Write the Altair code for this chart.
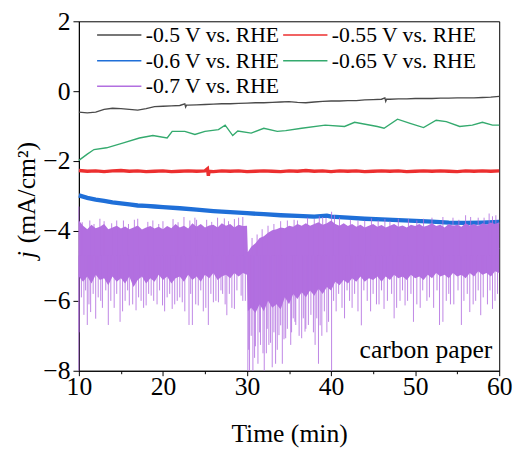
import altair as alt
import pandas as pd

series_names = ["-0.5 V vs. RHE", "-0.55 V vs. RHE", "-0.6 V vs. RHE",
                "-0.65 V vs. RHE", "-0.7 V vs. RHE"]
series_colors = ["#4a4a4a", "#ec2f2f", "#1f6fd8", "#34aa6e", "#b26fe0"]
series_widths = [1.4, 3.4, 4.4, 1.4, 1.0]

# -0.5 V (gray)
gray_t = [10, 11, 12, 13, 14, 15, 16, 17, 18, 19, 20, 21, 22, 22.6, 22.7, 22.8, 23, 24, 25,
          26, 27, 28, 29, 30, 31, 32, 33, 34, 35, 36, 37, 38, 39, 40, 41, 42, 43, 44, 45,
          46, 46.4, 46.5, 46.6, 47, 48, 49, 50, 51, 52, 53, 54, 55, 56, 57, 58, 59, 60]
gray_j = [-0.60, -0.62, -0.60, -0.52, -0.49, -0.50, -0.52, -0.54, -0.50, -0.44, -0.43,
          -0.42, -0.41, -0.36, -0.45, -0.40, -0.40, -0.39, -0.38, -0.37, -0.36, -0.36,
          -0.35, -0.34, -0.33, -0.33, -0.32, -0.31, -0.30, -0.32, -0.33, -0.31, -0.29,
          -0.28, -0.28, -0.27, -0.27, -0.25, -0.24, -0.23, -0.19, -0.29, -0.23, -0.23,
          -0.22, -0.22, -0.21, -0.21, -0.21, -0.20, -0.20, -0.19, -0.19, -0.19, -0.18,
          -0.17, -0.15]

# -0.55 V (red)
red_t = [10, 11, 12, 13, 14, 15, 16, 17, 18, 19, 20, 21, 22, 23, 24, 25, 25.3, 25.4, 25.5,
         26, 27, 28, 29, 30, 31, 32, 33, 34, 35, 36, 37, 38, 39, 40, 41, 42, 43, 44, 45,
         46, 47, 48, 49, 50, 51, 52, 53, 54, 55, 56, 57, 58, 59, 60]
red_j = [-2.27, -2.29, -2.28, -2.30, -2.28, -2.27, -2.29, -2.28, -2.30, -2.29, -2.28,
         -2.30, -2.29, -2.28, -2.29, -2.28, -2.22, -2.42, -2.29, -2.30, -2.28, -2.29,
         -2.28, -2.30, -2.29, -2.28, -2.29, -2.30, -2.28, -2.29, -2.27, -2.29, -2.28,
         -2.30, -2.28, -2.29, -2.28, -2.30, -2.29, -2.28, -2.29, -2.28, -2.30, -2.29,
         -2.28, -2.29, -2.28, -2.29, -2.30, -2.28, -2.29, -2.28, -2.29, -2.28]

# -0.6 V (blue)
blue_t = [10, 11, 12, 13, 14, 15, 16, 17, 18, 19, 20, 22, 24, 26, 28, 30, 32, 34, 36, 38,
          39.5, 40, 42, 44, 46, 48, 50, 52, 54, 56, 58, 60]
blue_j = [-2.98, -3.05, -3.10, -3.14, -3.18, -3.21, -3.24, -3.27, -3.28, -3.30, -3.32,
          -3.35, -3.39, -3.43, -3.46, -3.49, -3.52, -3.55, -3.57, -3.59, -3.56, -3.59,
          -3.62, -3.65, -3.67, -3.69, -3.71, -3.73, -3.76, -3.77, -3.76, -3.74]

# -0.65 V (green)
green_t = [10, 11, 11.8, 13.3, 15.3, 17.2, 18.8, 20.5, 21.1, 22.6, 23.8, 25, 26.6, 27.4,
           28.3, 28.9, 30.5, 32, 33.6, 34.6, 36.5, 39.3, 41.6, 42.8, 45.5, 46.3, 47.9,
           49.4, 51, 52.5, 53.7, 55.3, 56.8, 58, 59.2, 60]
green_j = [-1.98, -1.80, -1.67, -1.62, -1.48, -1.34, -1.27, -1.34, -1.15, -1.15, -1.24,
           -1.15, -1.10, -0.97, -1.27, -1.14, -1.20, -1.06, -1.15, -1.13, -1.06, -0.97,
           -1.01, -0.89, -1.01, -1.06, -0.80, -0.92, -1.04, -0.83, -0.87, -1.01, -0.97,
           -0.89, -0.97, -0.97]

# -0.7 V (purple): mean trace, dense noise band and spikes
purple_t = [10, 30, 30.1, 35, 40, 60]
purple_j = [-4.6, -4.6, -5.4, -5.0, -4.6, -4.5]

band_t = [10, 10.5, 11, 11.5, 12, 12.5, 13, 13.5, 14, 14.5, 15, 15.5, 16, 16.5, 17, 17.5,
          18, 18.5, 19, 19.5, 20, 20.5, 21, 21.5, 22, 22.5, 23, 23.5, 24, 24.5, 25, 25.5,
          26, 26.5, 27, 27.5, 28, 28.5, 29, 29.5, 30, 30.1, 30.5, 31, 31.5, 32, 32.5, 33,
          33.5, 34, 34.5, 35, 35.5, 36, 36.5, 37, 37.5, 38, 38.5, 39, 39.5, 40, 40.5, 41,
          41.5, 42, 42.5, 43, 43.5, 44, 44.5, 45, 45.5, 46, 46.5, 47, 47.5, 48, 48.5, 49,
          49.5, 50, 50.5, 51, 51.5, 52, 52.5, 53, 53.5, 54, 54.5, 55, 55.5, 56, 56.5, 57,
          57.5, 58, 58.5, 59, 59.5, 60]
band_hi = [-3.70, -3.85, -3.95, -3.82, -3.92, -3.88, -3.80, -3.95, -3.90, -3.85, -3.93,
           -3.87, -3.95, -3.90, -3.84, -3.96, -3.90, -3.86, -3.93, -3.88, -3.95, -3.86,
           -3.92, -3.80, -3.90, -3.85, -3.93, -3.78, -3.88, -3.80, -3.90, -3.84, -3.82,
           -3.90, -3.78, -3.85, -3.80, -3.90, -3.82, -3.86, -3.85, -4.60, -4.45, -4.35,
           -4.20, -4.15, -4.05, -3.98, -3.95, -3.90, -3.92, -3.85, -3.88, -3.80, -3.85,
           -3.78, -3.85, -3.80, -3.75, -3.82, -3.78, -3.70, -3.80, -3.85, -3.78, -3.86,
           -3.80, -3.88, -3.82, -3.90, -3.85, -3.80, -3.88, -3.83, -3.90, -3.85, -3.80,
           -3.88, -3.84, -3.90, -3.82, -3.86, -3.80, -3.88, -3.84, -3.78, -3.86, -3.82,
           -3.90, -3.80, -3.85, -3.82, -3.88, -3.78, -3.84, -3.80, -3.86, -3.78, -3.82,
           -3.76, -3.80, -3.75]
band_lo = [-5.30, -5.45, -5.30, -5.50, -5.25, -5.40, -5.35, -5.55, -5.30, -5.45, -5.35,
           -5.50, -5.30, -5.60, -5.40, -5.30, -5.50, -5.35, -5.45, -5.25, -5.40, -5.30,
           -5.50, -5.35, -5.30, -5.45, -5.25, -5.40, -5.30, -5.45, -5.25, -5.35, -5.20,
           -5.40, -5.30, -5.25, -5.35, -5.20, -5.30, -5.20, -5.25, -6.30, -6.20, -6.35,
           -6.10, -6.30, -6.00, -6.20, -6.10, -6.25, -5.90, -6.10, -5.80, -5.95, -5.75,
           -5.90, -5.70, -5.85, -5.65, -5.80, -5.60, -5.70, -5.45, -5.55, -5.40, -5.50,
           -5.35, -5.45, -5.30, -5.45, -5.35, -5.40, -5.30, -5.45, -5.30, -5.40, -5.25,
           -5.35, -5.30, -5.40, -5.25, -5.35, -5.30, -5.40, -5.25, -5.35, -5.20, -5.30,
           -5.25, -5.35, -5.20, -5.30, -5.25, -5.35, -5.20, -5.30, -5.15, -5.25, -5.20,
           -5.30, -5.15, -5.20]

# deep downward spikes
spike_t = [10.0, 10.02, 11.0, 11.4, 12.0, 12.6, 13.5, 14.2, 14.9, 15.5, 16.0, 16.8, 17.4,
           18.0, 18.6, 19.3, 19.95, 20.5, 21.1, 21.7, 22.3, 23.1, 23.5, 24.2, 24.8, 25.4,
           26.0, 26.6, 27.1, 27.6, 28.5, 29.3, 29.8,
           30.1, 30.3, 30.7, 30.9, 31.3, 31.6, 32.05, 32.3, 32.6, 33.0, 33.4, 33.8, 34.2,
           34.6, 35.2, 35.5, 35.8, 36.5, 36.9, 37.3, 38.1, 38.5, 38.9, 39.5, 40.06,
           40.6, 41.6, 42.5, 43.6, 44.7, 45.4, 46.3, 47.5, 48.2, 48.8, 49.8, 50.6, 51.4,
           52.9, 53.3, 54.2, 55.5, 56.5, 57.2, 57.8, 58.6, 59.2]
spike_j = [-8.0, -6.9, -6.69, -6.32, -6.51, -6.0, -6.69, -6.2, -6.6, -6.0, -6.13, -6.27,
           -6.0, -6.13, -5.85, -6.1, -6.13, -5.9, -6.23, -6.0, -6.04, -6.69, -6.69, -6.13,
           -6.3, -6.69, -6.04, -6.04, -5.8, -6.41, -6.23, -5.85, -6.0,
           -8.0, -8.0, -8.0, -7.63, -7.8, -7.26, -8.0, -7.5, -7.26, -7.9, -7.8, -6.98,
           -7.8, -7.07, -7.26, -6.5, -6.69, -7.07, -6.88, -6.69, -7.26, -7.8, -7.0, -6.9,
           -8.0,
           -6.3, -6.5, -6.2, -6.7, -6.3, -6.1, -6.23, -6.5, -6.0, -6.13, -6.6, -6.2, -6.0,
           -6.69, -6.6, -6.1, -6.69, -6.32, -6.0, -6.41, -6.1, -6.23]

# shorter jagged downward spikes of the lower edge
jag_t = [10.3, 10.6, 10.8, 11.2, 11.7, 12.3, 12.8, 13.2, 13.8, 14.5, 15.2, 15.8, 16.4,
         17.1, 17.7, 18.3, 18.9, 19.6, 20.2, 20.8, 21.4, 22.0, 22.6, 23.3, 23.9, 24.5,
         25.1, 25.7, 26.3, 26.9, 27.4, 27.9, 28.2, 28.8, 29.5,
         30.2, 30.5, 31.0, 31.5, 31.9, 32.4, 32.8, 33.2, 33.6, 34.0, 34.4, 34.8, 35.3,
         35.7, 36.2, 36.7, 37.0, 37.6, 37.9, 38.3, 38.7, 39.2, 39.7,
         40.3, 40.9, 41.3, 41.9, 42.2, 42.8, 43.2, 43.9, 44.3, 45.0, 45.7, 46.0, 46.7,
         47.2, 47.8, 48.5, 49.1, 49.5, 50.2, 50.9, 51.7, 52.2, 52.6, 53.7, 54.0, 54.6,
         55.1, 55.8, 56.2, 56.9, 57.5, 58.1, 58.9, 59.5, 59.8]
jag_j = [-5.9, -6.4, -5.7, -6.1, -5.8, -5.9, -6.2, -5.7, -6.0, -5.8, -6.3, -5.7, -6.1,
         -5.9, -6.2, -5.8, -6.0, -5.7, -6.3, -5.8, -6.1, -5.9, -6.3, -5.8, -6.1, -5.7,
         -6.2, -5.8, -6.0, -5.7, -6.1, -5.8, -6.2, -5.7, -6.0,
         -7.4, -7.0, -7.3, -6.9, -7.5, -6.8, -7.2, -6.9, -7.4, -6.7, -7.1, -6.8, -6.9,
         -6.6, -7.0, -6.5, -6.8, -6.4, -6.9, -6.5, -6.7, -6.3, -6.6,
         -6.0, -5.8, -6.2, -5.7, -6.0, -5.8, -6.3, -5.7, -6.0, -5.8, -6.1, -5.7, -6.0,
         -5.8, -6.2, -5.7, -6.0, -5.8, -6.1, -5.7, -5.9, -6.2, -5.7, -6.0, -5.8, -6.1,
         -5.7, -6.0, -5.8, -6.1, -5.7, -5.9, -5.7, -6.0, -5.8]

# upward spikes of the upper edge
up_t = [10.0, 10.4, 11.3, 11.8, 12.5, 13.0, 13.9, 14.5, 15.3, 15.9, 16.6, 17.0, 18.2,
        18.8, 19.5, 20.0, 21.2, 21.8, 22.5, 23.2, 23.8, 24.0, 25.2, 25.8, 26.5, 27.3,
        27.8, 28.5, 29.0, 29.5,
        30.6, 31.2, 31.8, 32.5, 33.2, 34.0, 34.8, 35.6, 36.0, 37.2, 38.0, 38.6, 39.0,
        39.4, 40.06, 40.4, 41.0, 42.3, 43.2, 44.0, 44.8, 45.6, 46.4, 47.0, 48.0, 49.2,
        50.2, 51.0, 52.0, 53.3, 54.5, 55.2, 56.0, 56.6, 57.5, 58.2, 58.8, 59.2, 59.6]
up_j = [-3.3, -3.75, -3.7, -3.8, -3.65, -3.72, -3.78, -3.7, -3.7, -3.8, -3.68, -3.65,
        -3.74, -3.7, -3.8, -3.72, -3.66, -3.75, -3.6, -3.7, -3.62, -3.68, -3.68, -3.74,
        -3.62, -3.64, -3.72, -3.66, -3.62, -3.6,
        -4.2, -4.1, -3.95, -3.85, -3.8, -3.72, -3.7, -3.68, -3.7, -3.62, -3.66, -3.58,
        -3.6, -3.62, -3.45, -3.55, -3.62, -3.68, -3.7, -3.7, -3.64, -3.7, -3.66, -3.72,
        -3.65, -3.66, -3.7, -3.65, -3.62, -3.6, -3.62, -3.68, -3.55, -3.6, -3.62, -3.62,
        -3.5, -3.58, -3.55]

x_ticks = [10, 15, 20, 25, 30, 35, 40, 45, 50, 55, 60]
y_ticks = [-8, -7, -6, -5, -4, -3, -2, -1, 0, 1, 2]

FONT = "Liberation Serif"
PURPLE = series_colors[4]

rows = []
for name, w, ts, js in [(series_names[0], series_widths[0], gray_t, gray_j),
                        (series_names[1], series_widths[1], red_t, red_j),
                        (series_names[2], series_widths[2], blue_t, blue_j),
                        (series_names[3], series_widths[3], green_t, green_j),
                        (series_names[4], series_widths[4], purple_t, purple_j)]:
    for t, j in zip(ts, js):
        rows.append({"series": name, "w": w, "t": t, "j": j})
lines_df = pd.DataFrame(rows)
band_df = pd.DataFrame({"t": band_t, "hi": band_hi, "lo": band_lo})
spike_df = pd.DataFrame({"t": spike_t + jag_t + up_t, "j": spike_j + jag_j + up_j})

xscale = alt.Scale(domain=[10, 60], nice=False, zero=False)
yscale = alt.Scale(domain=[-8, 2], nice=False, zero=False)

x_axis = alt.Axis(values=x_ticks, labelExpr="datum.value % 10 == 0 ? datum.label : ''",
                  tickSize={"condition": {"test": "datum.value % 10 != 0", "value": 3}, "value": 5},
                  title="Time (min)", titleBaseline="alphabetic", titleY=72,
                  labelBaseline="alphabetic", labelPadding=19, labelFlush=False,
                  labelFont=FONT, labelFontSize=26, titleFont=FONT, titleFontSize=26)
y_axis = alt.Axis(values=y_ticks, labelExpr="datum.value % 2 == 0 ? datum.label : ''",
                  tickSize={"condition": {"test": "datum.value % 2 != 0", "value": 3}, "value": 6},
                  title=None, labelPadding=3, labelFont=FONT, labelFontSize=26)

lines = alt.Chart(lines_df).mark_line().encode(
    x=alt.X("t:Q", scale=xscale, axis=x_axis),
    y=alt.Y("j:Q", scale=yscale, axis=y_axis),
    color=alt.Color("series:N", sort=series_names,
                    scale=alt.Scale(domain=series_names, range=series_colors),
                    legend=alt.Legend(title=None, orient="none", legendX=29, legendY=2,
                                      direction="horizontal", columns=2,
                                      symbolType="M-2,0L2,0", symbolSize=506,
                                      symbolStrokeWidth=1.5, labelOffset=15,
                                      columnPadding=-1, rowPadding=3, labelLimit=300,
                                      padding=0, labelFont=FONT, labelFontSize=22)),
    strokeWidth=alt.StrokeWidth("w:Q", scale=None),
    order=alt.Order("t:Q"),
)

band = alt.Chart(band_df).mark_area(color=PURPLE, opacity=1, interpolate="linear").encode(
    x=alt.X("t:Q", scale=xscale),
    y=alt.Y("hi:Q", scale=yscale),
    y2="lo:Q",
)

spikes = alt.Chart(spike_df).mark_rule(color=PURPLE, strokeWidth=1, opacity=0.85).encode(
    x=alt.X("t:Q", scale=xscale),
    y=alt.Y("j:Q", scale=yscale),
    y2=alt.datum(-4.7),
)

label_df = pd.DataFrame({"txt": ["carbon paper"]})
carbon = alt.Chart(label_df).mark_text(font=FONT, fontSize=26, align="right",
                                       baseline="alphabetic", color="black").encode(
    x=alt.value(420), y=alt.value(342), text="txt:N")

jl_df = pd.DataFrame({"txt": ["j"]})
ytitle_j = alt.Chart(jl_df).mark_text(font=FONT, fontSize=26, fontStyle="italic",
                                      angle=270, align="center", baseline="middle",
                                      color="black").encode(
    x=alt.value(-53), y=alt.value(237), text="txt:N")
ul_df = pd.DataFrame({"txt": ["(mA/cm²)"]})
ytitle_u = alt.Chart(ul_df).mark_text(font=FONT, fontSize=26, angle=270, align="center",
                                      baseline="middle", color="black").encode(
    x=alt.value(-53), y=alt.value(174), text="txt:N")

chart = alt.layer(lines, band, spikes, carbon, ytitle_j, ytitle_u).properties(
    width=427, height=355,
    background="white",
    autosize=alt.AutoSizeParams(type="none"),
    padding={"left": 72, "top": 10, "right": 14, "bottom": 78},
).configure_view(
    stroke="black", strokeWidth=1
).configure_axis(
    labelFont=FONT, labelFontSize=26, labelColor="black",
    titleFont=FONT, titleFontSize=26, titleFontWeight="normal", titleColor="black",
    domainColor="black", tickColor="black", grid=False
).configure_legend(
    labelFont=FONT, labelFontSize=22, labelColor="black"
)

chart.save("out.html", embed_options={"renderer": "svg", "actions": False})
